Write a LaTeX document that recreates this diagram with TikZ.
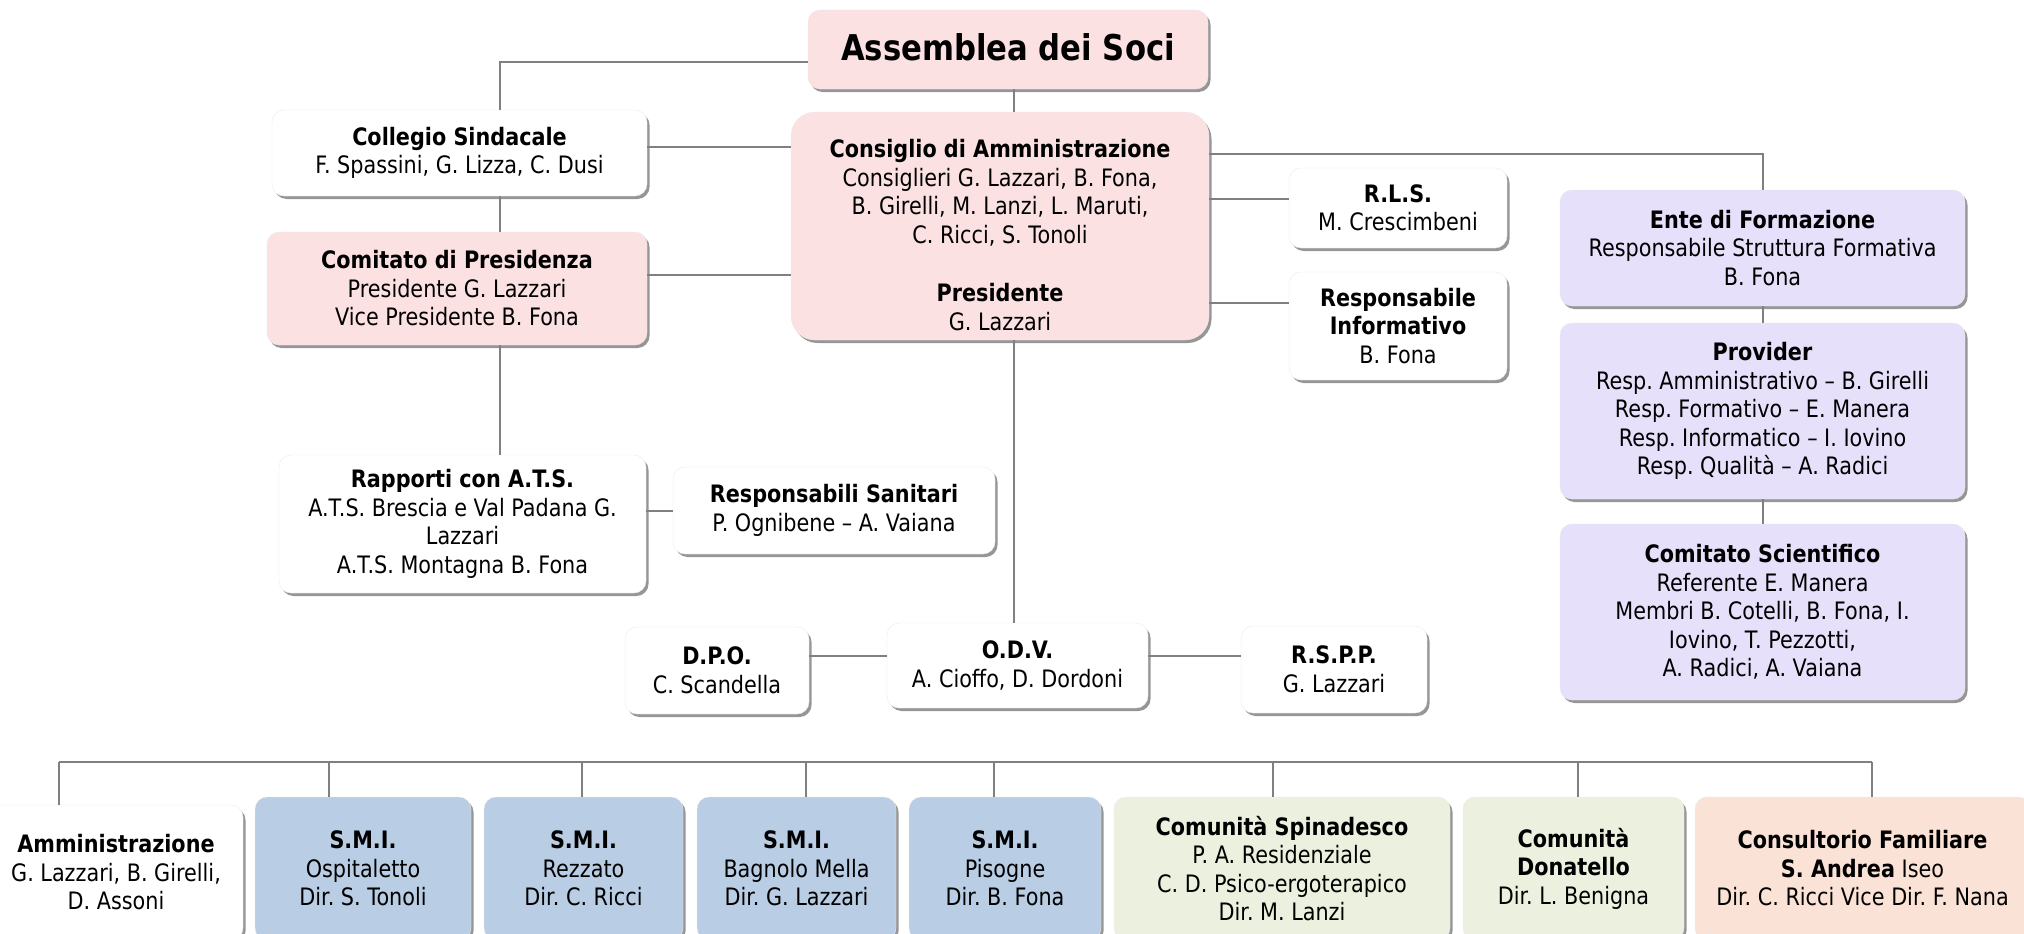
\documentclass[tikz,border=0pt]{standalone}
\usepackage{fontspec}
\setmainfont{DejaVu Sans}[FakeStretch=0.865]
\usepackage{xcolor}
\definecolor{boardpink}{RGB}{252,225,227}
\definecolor{lilac}{RGB}{231,224,251}
\definecolor{smiblue}{RGB}{185,205,228}
\definecolor{commgreen}{RGB}{235,241,222}
\definecolor{peach}{RGB}{251,226,214}
\usepackage{tikz}
\usetikzlibrary{positioning,shadows}
\tikzset{
  box/.style      ={ rectangle, rounded corners=12pt, align=center, inner sep=4pt,
                     font=\fontsize{24}{28.5}\selectfont, draw=black!8, thin,
                     drop shadow={shadow xshift=2.5pt, shadow yshift=-3pt, fill=black!55, opacity=0.75} },
  plain/.style    ={ box, fill=white },
  board/.style    ={ box, fill=boardpink },
  training/.style ={ box, fill=lilac },
  service/.style  ={ box, fill=smiblue },
  community/.style={ box, fill=commgreen },
  clinic/.style   ={ box, fill=peach },
  link/.style={draw=black!50, line width=2pt}
}

\begin{document}
\frenchspacing
\begin{tikzpicture}[x=1pt,y=-1pt]
        \useasboundingbox (0,0) rectangle (2024,934);
        \coordinate (trunkL) at (500,0);
        \coordinate (trunkC) at (1014,0);
        \coordinate (busL) at (59,762);
        \coordinate (busR) at (1872,762);
%
        \node[board, minimum width=400pt, minimum height=79pt, font=\fontsize{35.5}{40}\selectfont\bfseries] (assemblea) at (1008, 49.5) {\raisebox{5pt}{Assemblea dei Soci}};
        \node[board, rounded corners=24pt, minimum width=418pt, minimum height=228pt] (consiglio) at (1000, 226)
          {\rule{0pt}{36pt}\textbf{Consiglio di Amministrazione}\\Consiglieri G. Lazzari, B. Fona,\\B. Girelli, M. Lanzi, L. Maruti,\\C. Ricci, S. Tonoli\\[30pt]\textbf{Presidente}\\G. Lazzari};
        \node[plain, minimum width=375pt, minimum height=86pt] (collegio) at (459.5, 153)
          {\textbf{Collegio Sindacale}\\F. Spassini, G. Lizza, C. Dusi};
        \node[board, minimum width=380pt, minimum height=113pt] (comitato) at (457, 288.5)
          {\textbf{Comitato di Presidenza}\\Presidente G. Lazzari\\Vice Presidente B. Fona};
        \node[plain, minimum width=367pt, minimum height=138pt] (rapporti) at (462.5, 524)
          {\textbf{Rapporti con A.T.S.}\\A.T.S. Brescia e Val Padana G.\\Lazzari\\A.T.S. Montagna B. Fona};
        \node[plain, minimum width=322pt, minimum height=87pt] (sanitari) at (834, 510.5)
          {\textbf{Responsabili Sanitari}\\P. Ognibene – A. Vaiana};
        \node[plain, minimum width=218pt, minimum height=80pt] (rls) at (1398, 208)
          {\textbf{R.L.S.}\\M. Crescimbeni};
        \node[plain, minimum width=218pt, minimum height=108pt] (informativo) at (1398, 326)
          {\textbf{Responsabile}\\\textbf{Informativo}\\B. Fona};
        \node[training, minimum width=405pt, minimum height=116pt] (ente) at (1762.5, 248)
          {\textbf{Ente di Formazione}\\Responsabile Struttura Formativa\\B. Fona};
        \node[training, minimum width=405pt, minimum height=176pt] (provider) at (1762.5, 411)
          {\textbf{Provider}\\Resp. Amministrativo – B. Girelli\\Resp. Formativo – E. Manera\\Resp. Informatico – I. Iovino\\Resp. Qualità – A. Radici};
        \node[training, minimum width=405pt, minimum height=176pt] (scientifico) at (1762.5, 612)
          {\textbf{Comitato Scientifico}\\Referente E. Manera\\Membri B. Cotelli, B. Fona, I.\\Iovino, T. Pezzotti,\\A. Radici, A. Vaiana};
        \node[plain, minimum width=184pt, minimum height=87pt] (dpo) at (717, 670.5)
          {\textbf{D.P.O.}\\C. Scandella};
        \node[plain, minimum width=261pt, minimum height=85pt] (odv) at (1017.5, 665.5)
          {\textbf{O.D.V.}\\A. Cioffo, D. Dordoni};
        \node[plain, minimum width=186pt, minimum height=87pt] (rspp) at (1334, 669.5)
          {\textbf{R.S.P.P.}\\G. Lazzari};
%
        \node[plain, minimum width=254pt, minimum height=135pt] (amministr) at (116, 872.5)
          {\textbf{Amministrazione}\\G. Lazzari, B. Girelli,\\D. Assoni};
        \node[service, minimum width=216pt, minimum height=143pt] (smiA) at (363, 868.5)
          {\textbf{S.M.I.}\\Ospitaletto\\Dir. S. Tonoli};
        \node[service, minimum width=199pt, minimum height=143pt] (smiB) at (583.5, 868.5)
          {\textbf{S.M.I.}\\Rezzato\\Dir. C. Ricci};
        \node[service, minimum width=199pt, minimum height=143pt] (smiC) at (796.5, 868.5)
          {\textbf{S.M.I.}\\Bagnolo Mella\\Dir. G. Lazzari};
        \node[service, minimum width=192pt, minimum height=143pt] (smiD) at (1005, 868.5)
          {\textbf{S.M.I.}\\Pisogne\\Dir. B. Fona};
        \node[community, minimum width=336pt, minimum height=143pt] (spinadesco) at (1282, 868.5)
          {\textbf{Comunità Spinadesco}\\P. A. Residenziale\\C. D. Psico-ergoterapico\\Dir. M. Lanzi};
        \node[community, minimum width=221pt, minimum height=143pt] (donatello) at (1573.5, 868.5)
          {\textbf{Comunità}\\\textbf{Donatello}\\Dir. L. Benigna};
        \node[clinic, minimum width=335pt, minimum height=143pt] (consultorio) at (1862.5, 868.5)
          {\textbf{Consultorio Familiare}\\\textbf{S. Andrea} Iseo\\Dir. C. Ricci Vice Dir. F. Nana};
%
        \draw[link] ([yshift=-12.5pt]assemblea.west) -| (collegio.north -| trunkL);
        \draw[link] (assemblea.south -| trunkC) -- (consiglio.north -| trunkC);
        \draw[link] (collegio.south -| trunkL) -- (comitato.north -| trunkL);
        \draw[link] (comitato.south -| trunkL) -- (rapporti.north -| trunkL);
        \draw[link] ([yshift=6pt]collegio.east) -- ([yshift=6pt]collegio.east -| consiglio.west);
        \draw[link] ([yshift=13.5pt]comitato.east) -- ([yshift=13.5pt]comitato.east -| consiglio.west);
        \draw[link] (sanitari.west -| rapporti.east) -- (sanitari.west);
        \draw[link] ([yshift=9pt]rls.west -| consiglio.east) -- ([yshift=9pt]rls.west);
        \draw[link] ([yshift=23pt]informativo.west -| consiglio.east) -- ([yshift=23pt]informativo.west);
        \draw[link] ([yshift=72pt]consiglio.east) -| (ente.north);
        \draw[link] (ente.south) -- (provider.north);
        \draw[link] (provider.south) -- (scientifico.north);
        \draw[link] (consiglio.south -| trunkC) -- (odv.north -| trunkC);
        \draw[link] ([yshift=9.5pt]odv.west) -- ([yshift=9.5pt]odv.west -| dpo.east);
        \draw[link] ([yshift=9.5pt]odv.east) -- ([yshift=9.5pt]odv.east -| rspp.west);
%
        \draw[link] (busL) -- (busR);
        \draw[link] (amministr.north -| busL) -- (busL);
        \draw[link] ([xshift=-34pt]smiA.north) -- ([xshift=-34pt]smiA.north |- busL);
        \draw[link] ([xshift=-1.5pt]smiB.north) -- ([xshift=-1.5pt]smiB.north |- busL);
        \draw[link] ([xshift=9.5pt]smiC.north) -- ([xshift=9.5pt]smiC.north |- busL);
        \draw[link] ([xshift=-11pt]smiD.north) -- ([xshift=-11pt]smiD.north |- busL);
        \draw[link] ([xshift=-9pt]spinadesco.north) -- ([xshift=-9pt]spinadesco.north |- busL);
        \draw[link] ([xshift=4.5pt]donatello.north) -- ([xshift=4.5pt]donatello.north |- busL);
        \draw[link] (consultorio.north -| busR) -- (busR);
      \end{tikzpicture}
\end{document}
